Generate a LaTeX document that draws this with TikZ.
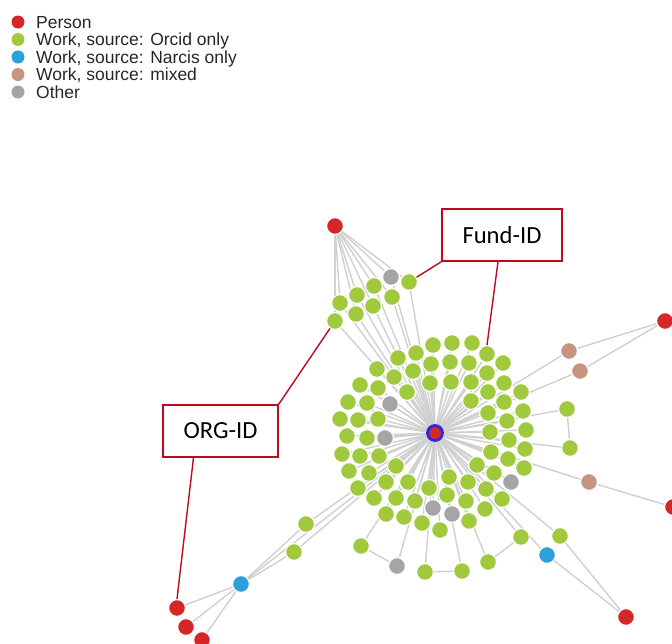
\documentclass[tikz,border=0pt]{standalone}
\usepackage{fontspec}
\usetikzlibrary{backgrounds}
\newfontfamily\legendfont{Liberation Sans}
\newfontfamily\calloutfont{Carlito}

\definecolor{personred}{RGB}{214,39,40}
\definecolor{orcidgreen}{RGB}{160,201,62}
\definecolor{narcisblue}{RGB}{44,160,218}
\definecolor{mixedbrown}{RGB}{198,148,128}
\definecolor{othergray}{RGB}{165,165,165}
\definecolor{linkgray}{RGB}{208,208,208}
\definecolor{calloutred}{RGB}{190,10,30}
\definecolor{hubring}{RGB}{40,40,220}

\tikzset{
  vtx/.style={circle, inner sep=0pt, minimum size=16.8pt, draw=white, line width=1.1pt},
  person/.style={vtx, fill=personred},
  orcid/.style={vtx, fill=orcidgreen},
  narcis/.style={vtx, fill=narcisblue},
  mixed/.style={vtx, fill=mixedbrown},
  other/.style={vtx, fill=othergray},
  hub/.style={circle, inner sep=0pt, minimum size=15pt, fill=personred, draw=hubring, line width=2.8pt},
  link/.style={draw=linkgray, line width=1.4pt},
  keydot/.style={circle, inner sep=0pt, minimum size=13pt},
  keytext/.style={anchor=base west, inner sep=0pt, text=black!85,
    font=\legendfont\fontsize{17.5}{18}\selectfont},
  callout/.style={draw=calloutred, line width=1.3pt, fill=white, inner sep=0pt,
    font=\calloutfont\fontsize{24.6}{26}\selectfont},
  pointer/.style={draw=calloutred, line width=1.4pt},
}

\begin{document}
\begin{tikzpicture}[x=1pt, y=-1pt]
\useasboundingbox (0,0) rectangle (672,643);

% legend
\node[keydot, fill=personred]  (k1) at (18,22) {};
\node[keydot, fill=orcidgreen] (k2) at (18,39.5) {};
\node[keydot, fill=narcisblue] (k3) at (18,57) {};
\node[keydot, fill=mixedbrown] (k4) at (18,74.5) {};
\node[keydot, fill=othergray]  (k5) at (18,92) {};
\node[keytext] (t1) at (36,28) {Person};
\node[keytext] (t2) at (36,45.5) {Work, source: Orcid only};
\node[keytext] (t3) at (36,63) {Work, source: Narcis only};
\node[keytext] (t4) at (36,80.5) {Work, source: mixed};
\node[keytext] (t5) at (36,98) {Other};

% central person
\node[hub] (ctr) at (435,433) {};

% works around the central person
\foreach \i/\x/\y in {
  1/433/345, 2/452/343, 3/472/343, 4/487/354, 5/416/353, 6/398/358,
  7/377/369, 8/503/363, 9/431/364, 10/450/362, 11/469/363, 12/487/373,
  13/413/371, 14/394/377, 15/360/385, 16/378/388, 17/407/392, 18/430/383,
  19/451/382, 20/471/382, 21/488/392, 22/504/383, 23/521/392, 24/348/402,
  25/367/403, 27/471/401, 28/504/402, 29/523/411, 30/488/413,
  31/340/419, 32/358/420, 33/378/419, 34/507/421, 35/347/436, 36/367/438,
  38/490/432, 39/509/440, 40/526/430, 41/342/454, 42/360/456,
  43/379/456, 44/491/452, 45/508/459, 46/525/449, 47/349/471, 48/369/473,
  49/396/466, 50/477/465, 51/494/473, 52/524/468, 53/358/488, 54/386/482,
  55/408/482, 56/429/488, 57/449/477, 58/468/482, 59/486/489,
  61/374/498, 62/396/498, 63/415/501, 65/447/495, 67/466/501,
  68/485/509, 69/502/499, 70/386/514, 71/404/517, 72/422/523, 73/440/530,
  74/469/521}
  \node[orcid] (r\i) at (\x,\y) {};
\foreach \i/\x/\y in {26/390/404, 37/385/438, 60/511/482, 64/433/508, 66/452/514}
  \node[other] (r\i) at (\x,\y) {};

% upper cluster shared with a second person
\node[person] (p1) at (335,226) {};
\node[other] (c1) at (391,277) {};
\foreach \i/\x/\y in {2/409/282, 3/374/286, 4/357/295, 5/340/303,
  6/392/297, 7/373/306, 8/356/314, 9/335/321}
  \node[orcid] (c\i) at (\x,\y) {};

% right-hand side
\node[person] (p2) at (665,321) {};
\node[mixed] (b1) at (569,351) {};
\node[mixed] (b2) at (580,371) {};
\node[orcid] (g1) at (567,409) {};
\node[orcid] (g2) at (570,448) {};
\node[mixed] (b3) at (589,482) {};
\node[person] (p3) at (673,507) {};

% lower side
\node[orcid] (q1) at (361,546) {};
\node[other] (q2) at (397,566) {};
\node[orcid] (q3) at (425,572) {};
\node[orcid] (q4) at (462,571) {};
\node[orcid] (q5) at (488,562) {};
\node[orcid] (q6) at (521,537) {};
\node[orcid] (q7) at (560,536) {};
\node[narcis] (nb) at (547,555) {};
\node[person] (p4) at (626,617) {};

% lower left
\node[orcid] (s1) at (306,524) {};
\node[orcid] (s2) at (294,552) {};
\node[narcis] (nb2) at (241,584) {};
\node[person] (p5) at (177,608) {};
\node[person] (p6) at (186,627) {};
\node[person] (p7) at (202,640) {};

% links, kept behind the vertices
\begin{pgfonlayer}{background}
  \foreach \i in {1,...,74} \draw[link] (ctr) -- (r\i);
  \foreach \i in {1,...,9} {
    \draw[link] (p1) -- (c\i);
    \draw[link] (c\i) -- (ctr);
  }
  \foreach \n in {b1,b2,g1,g2,b3,q1,q2,q3,q4,q5,q6,q7,nb,s1,s2,nb2}
    \draw[link] (\n) -- (ctr);
  \draw[link] (p2) -- (b1);
  \draw[link] (p2) -- (b2);
  \draw[link] (g1) -- (g2);
  \draw[link] (b3) -- (p3);
  \draw[link] (q1) -- (q2);
  \draw[link] (q3) -- (q4);
  \draw[link] (q5) -- (q6);
  \draw[link] (q7) -- (p4);
  \draw[link] (nb) -- (p4);
  \draw[link] (nb2) -- (s1);
  \draw[link] (nb2) -- (s2);
  \draw[link] (nb2) -- (p5);
  \draw[link] (nb2) -- (p6);
  \draw[link] (nb2) -- (p7);
\end{pgfonlayer}

% callouts
\node[callout, minimum width=120pt, minimum height=52pt] (fund) at (502,235) {Fund-ID};
\node[callout, minimum width=115pt, minimum height=52pt] (org) at (220.5,431) {ORG-ID};
\draw[pointer] (fund.south west) -- (c2);
\draw[pointer] ([xshift=-4pt]fund.south) -- (r4.north);
\draw[pointer] (org.north east) -- (c9);
\draw[pointer] ([xshift=-27pt]org.south) -- (p5.north);
\end{tikzpicture}
\end{document}
